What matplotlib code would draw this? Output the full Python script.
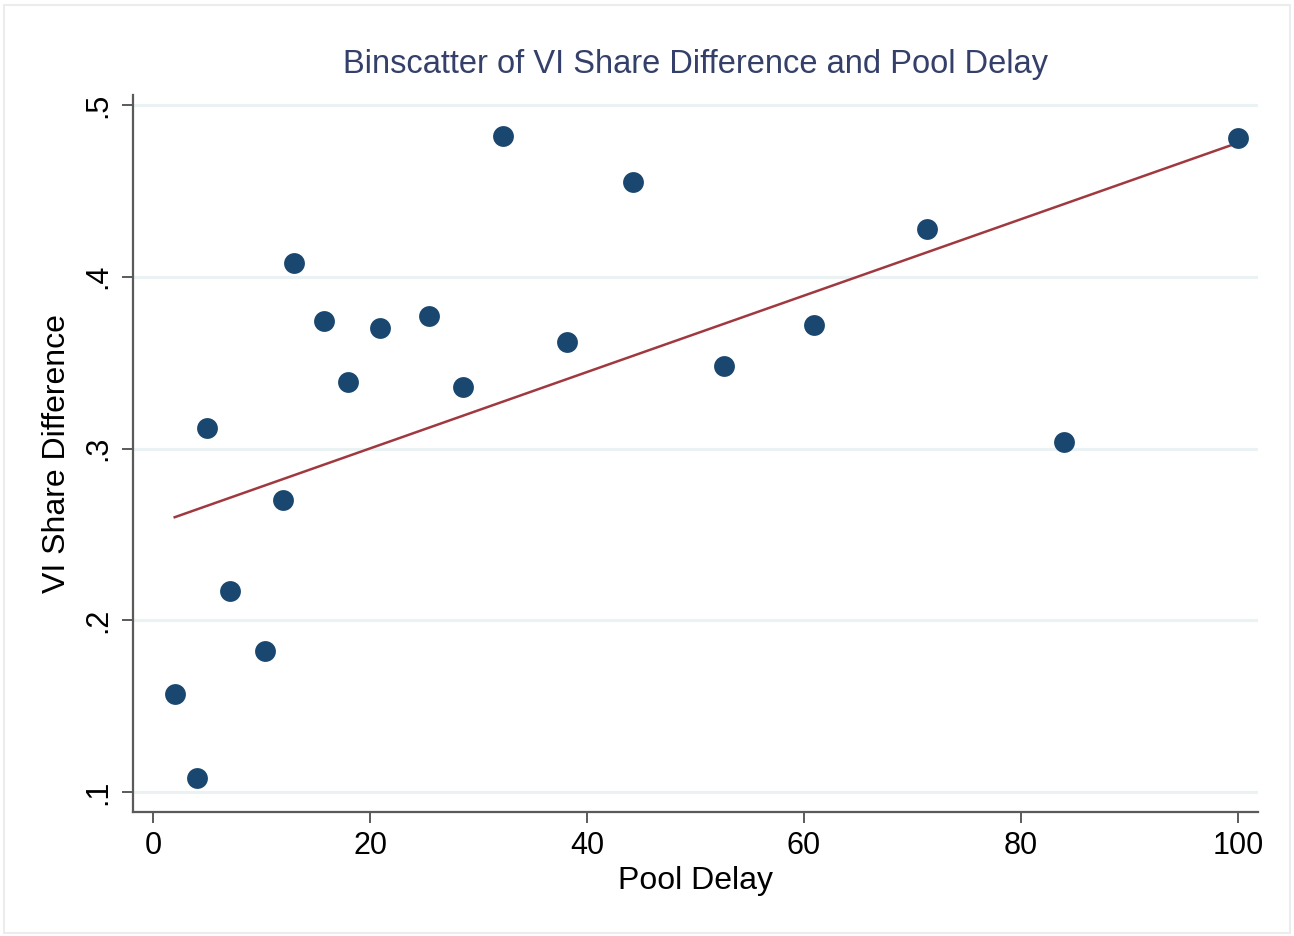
import matplotlib
matplotlib.use("Agg")
import matplotlib.pyplot as plt
from matplotlib import font_manager

pool_delay = [2.0, 4.1, 5.0, 7.1, 10.3, 12.0, 13.0, 15.8, 18.0, 20.9,
              25.4, 28.6, 32.3, 38.2, 44.2, 52.6, 60.9, 71.3, 84.0, 100.0]
vi_share_diff = [0.157, 0.108, 0.312, 0.217, 0.182, 0.270, 0.408, 0.374, 0.339, 0.370,
                 0.377, 0.336, 0.482, 0.362, 0.455, 0.348, 0.372, 0.428, 0.304, 0.481]
fit_x = [2.0, 100.0]
fit_y = [0.260, 0.478]
x_ticks = [0, 20, 40, 60, 80, 100]
y_ticks = [0.1, 0.2, 0.3, 0.4, 0.5]
y_tick_labels = [".1", ".2", ".3", ".4", ".5"]

names = {f.name for f in font_manager.fontManager.ttflist}
fam = ["Liberation Sans Narrow", "Liberation Sans", "DejaVu Sans"]
fam = [f for f in fam if f in names] or ["DejaVu Sans"]
plt.rcParams["font.family"] = fam

fig = plt.figure(figsize=(12.94, 9.36), dpi=100)
fig.patch.set_facecolor("white")
border = plt.Rectangle((0.003, 0.003), 0.994, 0.992, transform=fig.transFigure,
                       fill=False, edgecolor="#ececec", linewidth=1.5)
fig.patches.append(border)

ax = fig.add_axes([0.1028, 0.1325, 0.8694, 0.766])
ax.set_xlim(-1.84, 101.84)
ax.set_ylim(0.0884, 0.5058)

for yt in y_ticks:
    ax.axhline(yt, color="#eaf2f3", linewidth=2.2, zorder=0)

ax.plot(fit_x, fit_y, color="#a0393f", linewidth=1.8, zorder=2)
ax.scatter(pool_delay, vi_share_diff, s=225, color="#1a476f", zorder=3, linewidths=0)

ax.set_xticks(x_ticks)
ax.set_xticklabels([str(v) for v in x_ticks])
ax.set_yticks(y_ticks)
ax.set_yticklabels(y_tick_labels, rotation=90, va="center")

ax.spines["top"].set_visible(False)
ax.spines["right"].set_visible(False)
for s in ("left", "bottom"):
    ax.spines[s].set_color("#5a5a5a")
    ax.spines[s].set_linewidth(1.6)
ax.tick_params(axis="both", length=8, width=1.4, color="#5a5a5a",
               labelsize=22, labelcolor="black", pad=6)

ax.set_xlabel("Pool Delay", fontsize=23, labelpad=3)
ax.set_ylabel("VI Share Difference", fontsize=23, labelpad=8)
ax.set_title("Binscatter of VI Share Difference and Pool Delay",
             fontsize=23.5, color="#34406a", pad=16)

fig.savefig("out.png", dpi=100)
